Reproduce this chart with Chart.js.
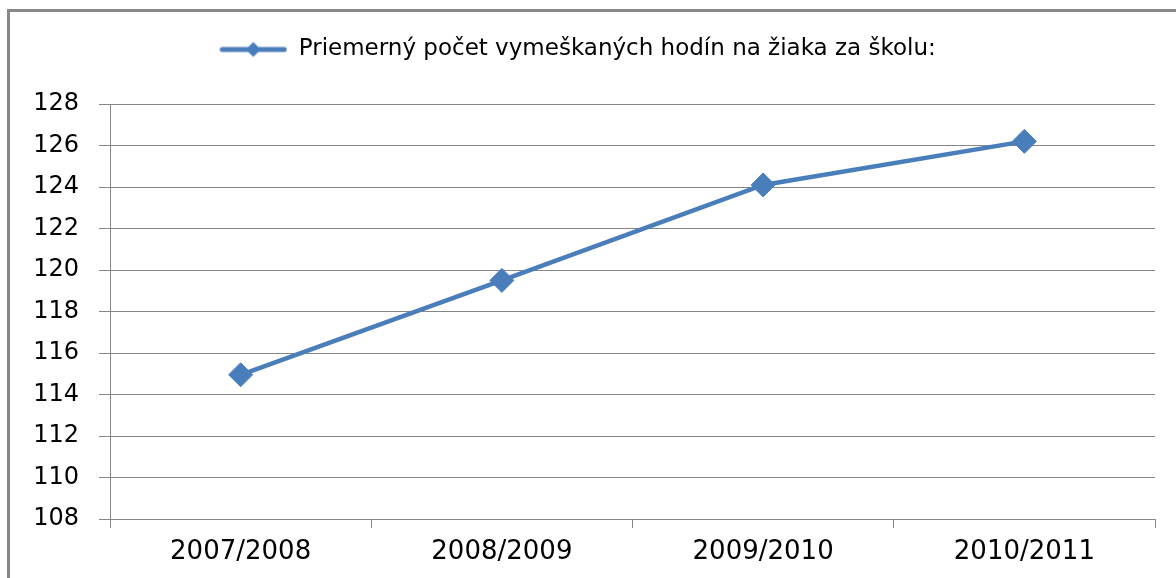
<!DOCTYPE html>
<html lang="sk">
<head>
	<meta charset="UTF-8">
	<title>Priemerný počet vymeškaných hodín</title>
	<script src="https://cdn.jsdelivr.net/npm/chart.js@4/dist/chart.umd.min.js"></script>
	<style>
		body{margin:0;background:#fff;}
		.box{position:relative;width:1176px;height:578px;overflow:hidden;}
		.frame{position:absolute;left:7px;top:9px;width:1300px;height:700px;border-left:3px solid #888;border-top:3px solid #888;}
		canvas{position:absolute;left:0;top:0;}
	</style>
</head>
<body>
	<div class="box">
		<div class="frame"></div>
		<canvas id="myChart" width="1176" height="578"></canvas>
	</div>
<script>
	var roky=["2007/2008","2008/2009","2009/2010","2010/2011"];
	var hodiny=[114.95,119.5,124.1,126.2];
	var yMin=108, yMax=128, yKrok=2;
	var nazov="Priemerný počet vymeškaných hodín na žiaka za školu:";
	var modra="#4a7ebb";

	// znacka do legendy: ciara s kosostvorcom
	var znacka=document.createElement("canvas");
	znacka.width=68; znacka.height=18;
	var z=znacka.getContext("2d");
	z.strokeStyle=modra; z.lineWidth=5; z.lineCap="round";
	z.beginPath(); z.moveTo(3,9); z.lineTo(65,9); z.stroke();
	z.fillStyle=modra;
	z.beginPath(); z.moveTo(34,1.5); z.lineTo(41.5,9); z.lineTo(34,16.5); z.lineTo(26.5,9); z.closePath(); z.fill();

	// medzera pod legendou
	var medzera={
		id:"medzera",
		beforeUpdate:function(chart){
			var lg=chart.legend;
			if(lg && !lg._medzera){
				var f=lg.fit;
				lg.fit=function(){ f.call(this); this.height+=33; };
				lg._medzera=true;
			}
		}
	};

	var ctx=document.getElementById("myChart");
	var myChart=new Chart(ctx,{
		type:"line",
		data:{
			labels:roky,
			datasets:[{
				label:nazov,
				data:hodiny,
				borderColor:modra,
				backgroundColor:modra,
				borderWidth:4.5,
				tension:0,
				pointStyle:"rectRot",
				pointRadius:12,
				pointBorderWidth:1,
				pointHoverRadius:12
			}]
		},
		options:{
			responsive:false,
			animation:false,
			layout:{padding:{top:5,left:0,right:21,bottom:0}},
			plugins:{
				tooltip:{enabled:false},
				legend:{
					display:true,
					labels:{
						usePointStyle:true,
						pointStyle:znacka,
						pointStyleWidth:68,
						padding:33,
						color:"#000",
						font:{family:"DejaVu Sans",size:23}
					}
				}
			},
			scales:{
				x:{
					offset:true,
					grid:{offset:true,drawOnChartArea:false,drawTicks:true,tickLength:9,color:"#868686"},
					border:{display:false},
					ticks:{color:"#000",padding:9,font:{family:"DejaVu Sans",size:26},maxRotation:0},
					afterFit:function(s){s.height=59;}
				},
				y:{
					min:yMin,max:yMax,
					ticks:{stepSize:yKrok,color:"#000",padding:20,font:{family:"DejaVu Sans",size:24}},
					grid:{color:"#868686",lineWidth:1,tickLength:11},
					border:{display:true,color:"#868686",width:1},
					afterFit:function(s){s.width=110;}
				}
			}
		},
		plugins:[medzera]
	});
</script>
</body>
</html>
